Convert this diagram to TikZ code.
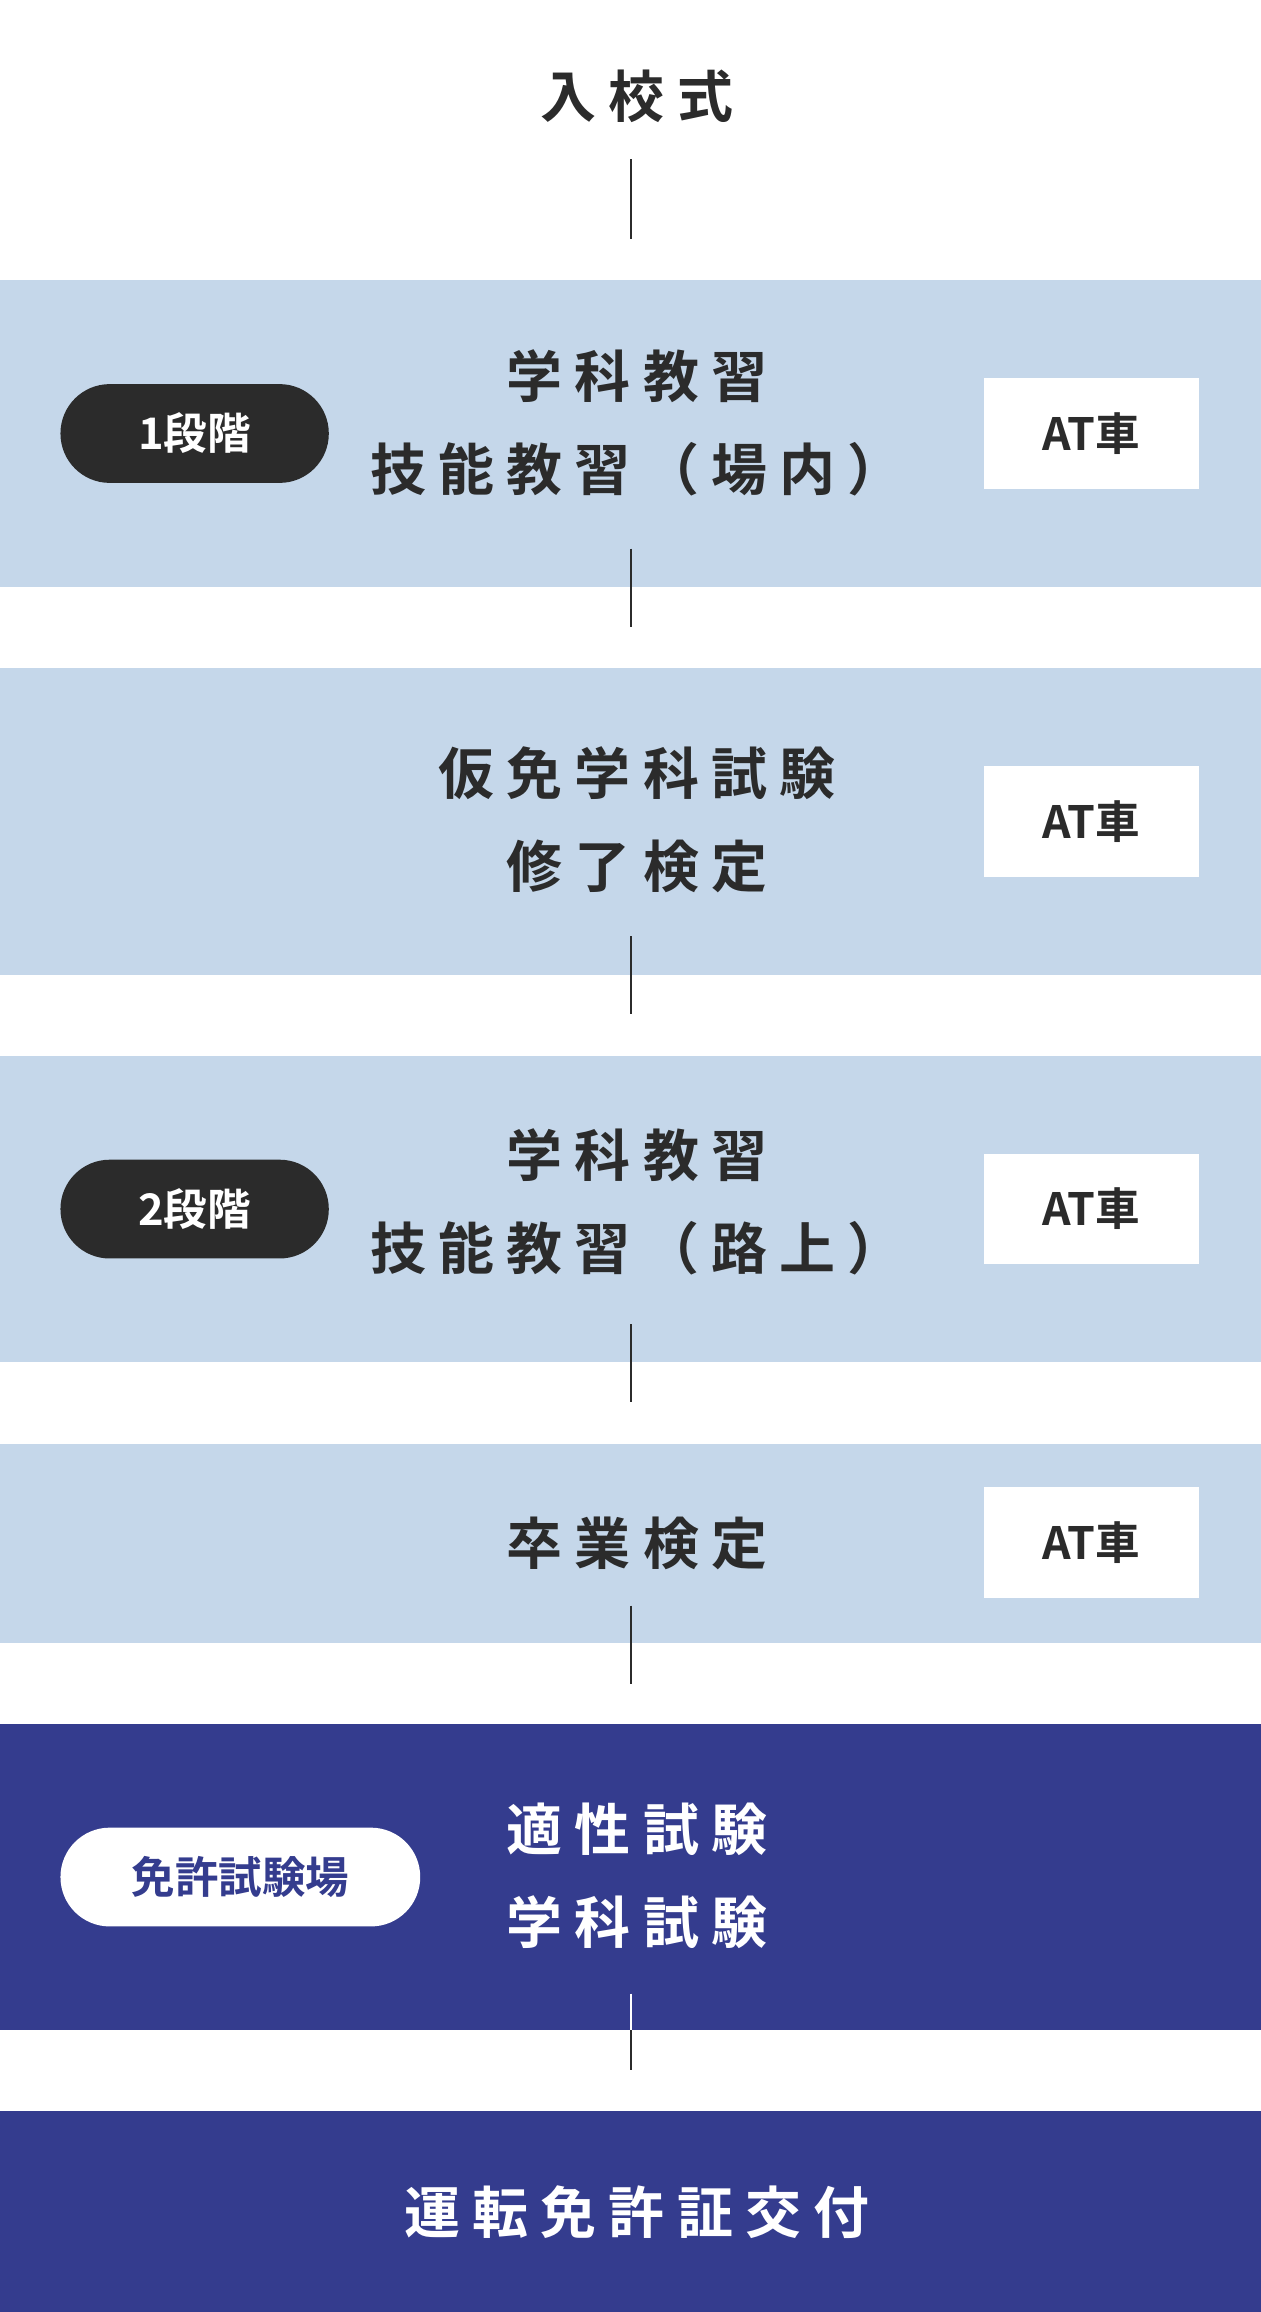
\documentclass[tikz,border=0pt]{standalone}
\usepackage{fontspec}
\newfontfamily\jp[LetterSpace=22]{Noto Sans CJK JP Bold}
\newfontfamily\jpat{Noto Sans CJK JP Bold}
\definecolor{bandlight}{HTML}{C5D7EA}
\definecolor{banddark}{HTML}{343C8E}
\definecolor{ink}{HTML}{2B2B2B}
\tikzset{
  maintext/.style={font=\jp\fontsize{54}{90}\selectfont, text=ink, align=center, inner sep=0pt},
  attag/.style={fill=white, minimum width=7.3cm, minimum height=3.75cm, inner sep=0pt,
    font=\jpat\fontsize{43}{50}\selectfont, text=ink},
  stagepill/.style={rounded corners=1.67cm, minimum height=3.35cm, inner sep=0pt,
    font=\jpat\fontsize{42}{50}\selectfont},
  link/.style={draw=ink, line width=2.2pt}
}
\newcommand{\band}[3]{\fill[#1] (0,#2) rectangle (855,#3);}
\begin{document}
\begin{tikzpicture}[x=0.05cm,y=-0.05cm]
        \useasboundingbox (0,0) rectangle (855,1568);
        % bands
        \band{bandlight}{190}{398}
        \band{bandlight}{453}{661}
        \band{bandlight}{716}{924}
        \band{bandlight}{979}{1114}
        \band{banddark}{1169}{1377}
        \band{banddark}{1432}{1568}

        % connectors
        \coordinate (c0a) at (428,108); \coordinate (c0b) at (428,162);
        \coordinate (c1a) at (428,372); \coordinate (c1b) at (428,425);
        \coordinate (c2a) at (428,635); \coordinate (c2b) at (428,688);
        \coordinate (c3a) at (428,898); \coordinate (c3b) at (428,951);
        \coordinate (c4a) at (428,1089); \coordinate (c4b) at (428,1142);
        \coordinate (c5a) at (428,1352); \coordinate (c5m) at (428,1377); \coordinate (c5b) at (428,1404);
        \foreach \i in {0,...,4} \draw[link] (c\i a) -- (c\i b);
        \draw[link, draw=white] (c5a) -- (c5m);
        \draw[link] (c5m) -- (c5b);

        % texts
        \node[maintext] (entry) at (432,65) {入校式};
        \node[maintext] (s1) at (432,287) {学科教習\\技能教習（場内）};
        \node[maintext] (s2) at (432,556) {仮免学科試験\\修了検定};
        \node[maintext] (s3) at (432,815) {学科教習\\技能教習（路上）};
        \node[maintext] (s4) at (432,1047) {卒業検定};
        \node[maintext, text=white] (s5) at (432,1272) {適性試験\\学科試験};
        \node[maintext, text=white] (s6) at (432,1500) {運転免許証交付};

        % stage pills
        \node[stagepill, fill=ink, text=white, minimum width=9.1cm] (p1) at (132,294) {1段階};
        \node[stagepill, fill=ink, text=white, minimum width=9.1cm] (p3) at (132,820) {2段階};
        \node[stagepill, fill=white, text=banddark, minimum width=12.2cm] (p5) at (163,1273) {免許試験場};

        % AT tags
        \node[attag] (a1) at (740,294) {AT車};
        \node[attag] (a2) at (740,557) {AT車};
        \node[attag] (a3) at (740,820) {AT車};
        \node[attag] (a4) at (740,1046) {AT車};
\end{tikzpicture}
\end{document}
